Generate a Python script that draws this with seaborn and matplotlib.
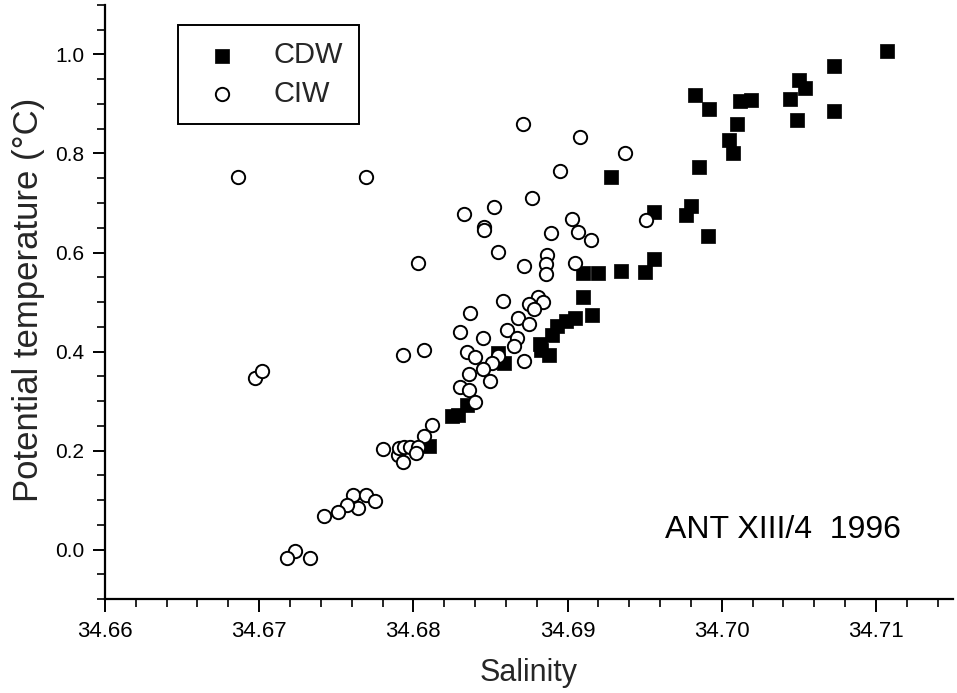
import matplotlib
matplotlib.use("Agg")
import matplotlib.pyplot as plt
import seaborn as sns
import pandas as pd
from matplotlib.ticker import MultipleLocator, FormatStrFormatter

# ---- data ----
cdw_salinity = [34.7107, 34.7073, 34.7050, 34.7054, 34.7044, 34.7073, 34.7049, 34.6983,
                34.6992, 34.7012, 34.7019, 34.7010, 34.7005, 34.7007, 34.6985, 34.6928,
                34.6956, 34.6980, 34.6977, 34.6991, 34.6956, 34.6950, 34.6935, 34.6920,
                34.6910, 34.6910, 34.6916, 34.6905, 34.6899, 34.6893, 34.6890, 34.6882,
                34.6883, 34.6888, 34.6855, 34.6859, 34.6825, 34.6829, 34.6835, 34.6810]
cdw_theta = [1.008, 0.977, 0.948, 0.933, 0.910, 0.885, 0.867, 0.918,
             0.890, 0.907, 0.909, 0.860, 0.828, 0.802, 0.773, 0.753,
             0.681, 0.694, 0.675, 0.633, 0.587, 0.561, 0.563, 0.559,
             0.558, 0.510, 0.474, 0.467, 0.462, 0.452, 0.433, 0.415,
             0.403, 0.393, 0.397, 0.376, 0.270, 0.272, 0.291, 0.210]

ciw_salinity = [34.6686, 34.6769, 34.6871, 34.6908, 34.6937, 34.6895, 34.6877, 34.6833,
                34.6852, 34.6846, 34.6846, 34.6855, 34.6803, 34.6951, 34.6903, 34.6907,
                34.6915, 34.6889, 34.6887, 34.6886, 34.6886, 34.6872, 34.6905, 34.6858,
                34.6837, 34.6881, 34.6875, 34.6884, 34.6878, 34.6868, 34.6875, 34.6830,
                34.6845, 34.6861, 34.6867, 34.6865, 34.6872, 34.6835, 34.6840, 34.6855,
                34.6851, 34.6845, 34.6850, 34.6836, 34.6830, 34.6836, 34.6840, 34.6807,
                34.6793, 34.6697, 34.6702, 34.6812, 34.6807, 34.6780, 34.6790, 34.6793,
                34.6791, 34.6794, 34.6798, 34.6803, 34.6802, 34.6761, 34.6769, 34.6775,
                34.6764, 34.6757, 34.6751, 34.6742, 34.6723, 34.6718, 34.6733]
ciw_theta = [0.753, 0.753, 0.859, 0.834, 0.801, 0.765, 0.711, 0.677,
             0.691, 0.651, 0.645, 0.601, 0.579, 0.665, 0.667, 0.642,
             0.625, 0.640, 0.595, 0.576, 0.556, 0.573, 0.578, 0.503,
             0.478, 0.510, 0.495, 0.500, 0.486, 0.467, 0.456, 0.440,
             0.427, 0.444, 0.427, 0.411, 0.381, 0.400, 0.388, 0.391,
             0.376, 0.364, 0.341, 0.354, 0.329, 0.323, 0.299, 0.403,
             0.393, 0.347, 0.361, 0.252, 0.230, 0.203, 0.190, 0.176,
             0.205, 0.207, 0.208, 0.208, 0.195, 0.111, 0.111, 0.099,
             0.084, 0.089, 0.075, 0.067, -0.003, -0.017, -0.018]

x_ticks = [34.66, 34.67, 34.68, 34.69, 34.70, 34.71]
y_ticks = [0.0, 0.2, 0.4, 0.6, 0.8, 1.0]
annotation = "ANT XIII/4  1996"

cdw = pd.DataFrame({"Salinity": cdw_salinity, "Theta": cdw_theta})
ciw = pd.DataFrame({"Salinity": ciw_salinity, "Theta": ciw_theta})

sns.set_style("ticks")
plt.rcParams["font.family"] = ["Liberation Sans", "DejaVu Sans"]

fig = plt.figure(figsize=(9.57, 6.93), dpi=100)
ax = fig.add_axes([0.1097, 0.1356, 0.8861, 0.8572])

sns.scatterplot(data=cdw, x="Salinity", y="Theta", marker="s", s=100,
                color="black", edgecolor="black", linewidth=0.5, ax=ax,
                label="CDW", zorder=2)
sns.scatterplot(data=ciw, x="Salinity", y="Theta", marker="o", s=92,
                facecolor="white", edgecolor="black", linewidth=1.4, ax=ax,
                label="CIW", zorder=3)

ax.set_xlim(34.66, 34.715)
ax.set_ylim(-0.1, 1.1)
ax.set_xticks(x_ticks)
ax.set_yticks(y_ticks)
ax.xaxis.set_minor_locator(MultipleLocator(0.002))
ax.yaxis.set_minor_locator(MultipleLocator(0.05))
ax.xaxis.set_major_formatter(FormatStrFormatter("%.2f"))
ax.yaxis.set_major_formatter(FormatStrFormatter("%.1f"))

for side in ("top", "right"):
    ax.spines[side].set_visible(False)
for side in ("left", "bottom"):
    ax.spines[side].set_linewidth(1.6)
    ax.spines[side].set_color("black")

ax.tick_params(which="major", direction="out", length=9, width=1.4, colors="black")
ax.tick_params(axis="y", which="major", pad=6, labelsize=15)
ax.tick_params(axis="x", which="major", pad=7, labelsize=16)
ax.tick_params(which="minor", direction="out", length=5.5, width=1.2, colors="black")

ax.set_xlabel("Salinity", fontsize=22)
ax.set_ylabel("Potential temperature (\u00b0C)", fontsize=25)
ax.xaxis.set_label_coords(0.50, -0.100)
ax.yaxis.set_label_coords(-0.071, 0.503)

ax.text(0.80, 0.116, annotation, transform=ax.transAxes, fontsize=23,
        ha="center", va="center", color="black")

leg = ax.legend(loc="upper left", bbox_to_anchor=(0.086, 0.966), borderaxespad=0,
                fontsize=21, frameon=True, fancybox=False, framealpha=1,
                edgecolor="black", borderpad=0.55, handlelength=1.93,
                handletextpad=0.79, labelspacing=0.37, scatterpoints=1)
leg.get_frame().set_linewidth(1.4)

fig.savefig("out.png", dpi=100)
